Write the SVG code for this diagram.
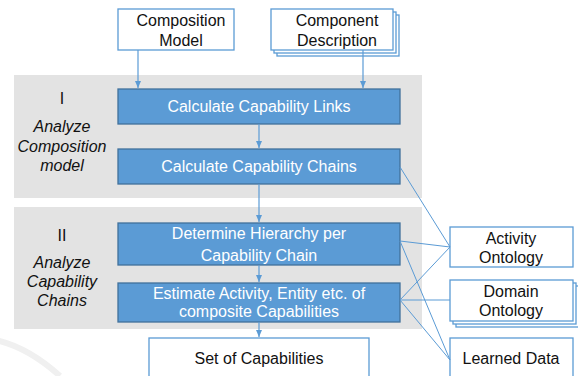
<svg xmlns="http://www.w3.org/2000/svg" width="578" height="376" viewBox="0 0 578 376">
  <defs>
    <marker id="arrow" markerWidth="8" markerHeight="8" refX="7" refY="4" orient="auto" markerUnits="userSpaceOnUse">
      <path d="M0,1 L7,4 L0,7 Z" fill="#5b9bd5"/>
    </marker>
    <style>
      .panel { fill: #e3e3e3; }
      .doc { fill: #ffffff; stroke: #5b9bd5; stroke-width: 1.3; }
      .step { fill: #5b9bd5; stroke: #41719c; stroke-width: 1.3; }
      .link { fill: none; stroke: #5b9bd5; stroke-width: 1; }
      .flow { fill: none; stroke: #5b9bd5; stroke-width: 1.2; marker-end: url(#arrow); }
      text { font-family: "Liberation Sans", Arial, sans-serif; text-anchor: middle; dominant-baseline: central; }
      .dark { fill: #111111; font-size: 16px; }
      .light { fill: #ffffff; font-size: 16px; }
      .phase { fill: #111111; font-size: 16px; font-style: italic; }
    </style>
  </defs>

  <rect width="578" height="376" fill="#ffffff"/>
  <!-- faint watermark arc -->
  <path d="M-20,338 Q20,340 60,376" fill="none" stroke="#f0f0f0" stroke-width="6"/>

  <!-- phase panels -->
  <g id="phase-1">
    <rect class="panel" x="14" y="75" width="408" height="123"/>
    <text class="dark" x="62" y="98">I</text>
    <text class="phase" x="62" y="126">Analyze</text>
    <text class="phase" x="62" y="146">Composition</text>
    <text class="phase" x="62" y="165">model</text>
  </g>
  <g id="phase-2">
    <rect class="panel" x="14" y="207" width="408" height="122"/>
    <text class="dark" x="62" y="235">II</text>
    <text class="phase" x="62" y="262">Analyze</text>
    <text class="phase" x="62" y="281">Capability</text>
    <text class="phase" x="62" y="300">Chains</text>
  </g>

  <!-- inputs -->
  <g id="composition-model">
    <rect class="doc" x="118" y="9" width="116" height="41"/>
    <text class="dark" x="181" y="20">Composition</text>
    <text class="dark" x="181" y="40">Model</text>
  </g>
  <g id="component-description">
    <rect class="doc" x="277" y="15" width="122" height="41"/>
    <rect class="doc" x="274" y="12" width="122" height="41"/>
    <rect class="doc" x="271" y="9" width="122" height="41"/>
    <text class="dark" x="337" y="20">Component</text>
    <text class="dark" x="337" y="40">Description</text>
  </g>

  <!-- processing steps -->
  <g id="capability-links">
    <rect class="step" x="118" y="89" width="282" height="35"/>
    <text class="light" x="259" y="106">Calculate Capability Links</text>
  </g>
  <g id="capability-chains">
    <rect class="step" x="118" y="149" width="282" height="35"/>
    <text class="light" x="259" y="166">Calculate Capability Chains</text>
  </g>
  <g id="hierarchy">
    <rect class="step" x="118" y="223" width="282" height="42"/>
    <text class="light" x="259" y="233">Determine Hierarchy per</text>
    <text class="light" x="259" y="255">Capability Chain</text>
  </g>
  <g id="estimate">
    <rect class="step" x="118" y="283" width="282" height="39"/>
    <text class="light" x="259" y="293">Estimate Activity, Entity etc. of</text>
    <text class="light" x="259" y="311">composite Capabilities</text>
  </g>

  <!-- output -->
  <g id="set-of-capabilities">
    <rect class="doc" x="149" y="338" width="220" height="46"/>
    <text class="dark" x="259" y="358">Set of Capabilities</text>
  </g>

  <!-- knowledge sources -->
  <g id="activity-ontology">
    <rect class="doc" x="450" y="227" width="123" height="40"/>
    <text class="dark" x="511" y="238">Activity</text>
    <text class="dark" x="511" y="257">Ontology</text>
  </g>
  <g id="domain-ontology">
    <rect class="doc" x="456" y="286" width="123" height="41"/>
    <rect class="doc" x="453" y="283" width="123" height="41"/>
    <rect class="doc" x="450" y="280" width="123" height="41"/>
    <text class="dark" x="511" y="291">Domain</text>
    <text class="dark" x="511" y="310">Ontology</text>
  </g>
  <g id="learned-data">
    <rect class="doc" x="450" y="338" width="123" height="46"/>
    <text class="dark" x="511" y="358">Learned Data</text>
  </g>

  <!-- connectors -->
  <g id="connectors">
    <path class="flow" d="M138,50 V88"/>
    <path class="flow" d="M363,50 V88"/>
    <path class="flow" d="M259,124 V148"/>
    <path class="flow" d="M259,184 V222"/>
    <path class="flow" d="M259,265 V282"/>
    <path class="flow" d="M259,322 V337"/>

    <path class="link" d="M400,167 L450,247"/>
    <path class="link" d="M400,241 L450,247"/>
    <path class="link" d="M400,241 L450,360"/>
    <path class="link" d="M400,300 L450,247"/>
    <path class="link" d="M400,300 L450,300"/>
    <path class="link" d="M400,300 L450,360"/>
  </g>
</svg>
